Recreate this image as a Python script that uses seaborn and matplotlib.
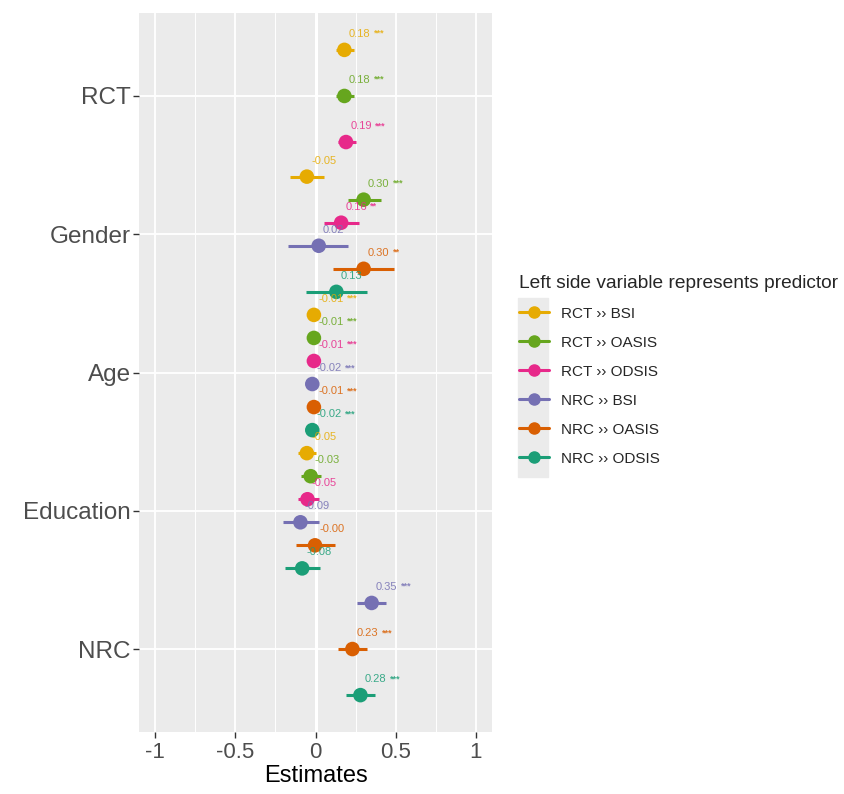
import numpy as np
import pandas as pd
import matplotlib.pyplot as plt
import seaborn as sns
from matplotlib.lines import Line2D
from matplotlib.patches import Rectangle

# terms (top to bottom) and the six models
terms = ["RCT", "Gender", "Age", "Education", "NRC"]
models = ["RCT \u203a\u203a BSI", "RCT \u203a\u203a OASIS", "RCT \u203a\u203a ODSIS",
          "NRC \u203a\u203a BSI", "NRC \u203a\u203a OASIS", "NRC \u203a\u203a ODSIS"]
colors = ["#E6AB02", "#66A61E", "#E7298A", "#7570B3", "#D95F02", "#1B9E77"]

# estimates per model, in order of terms (None = term not in model)
est_rct_bsi = [0.18, -0.054, -0.01, -0.054, None]
est_rct_oasis = [0.18, 0.30, -0.01, -0.03, None]
est_rct_odsis = [0.19, 0.16, -0.01, -0.05, None]
est_nrc_bsi = [None, 0.02, -0.02, -0.094, 0.35]
est_nrc_oasis = [None, 0.30, -0.01, -0.003, 0.23]
est_nrc_odsis = [None, 0.13, -0.02, -0.083, 0.28]

low_rct_bsi = [0.13, -0.16, -0.015, -0.11, None]
low_rct_oasis = [0.13, 0.20, -0.015, -0.09, None]
low_rct_odsis = [0.14, 0.05, -0.015, -0.11, None]
low_nrc_bsi = [None, -0.17, -0.025, -0.20, 0.26]
low_nrc_oasis = [None, 0.11, -0.015, -0.12, 0.14]
low_nrc_odsis = [None, -0.06, -0.025, -0.19, 0.19]

high_rct_bsi = [0.24, 0.05, -0.005, 0.00, None]
high_rct_oasis = [0.24, 0.41, -0.005, 0.035, None]
high_rct_odsis = [0.25, 0.27, -0.005, 0.02, None]
high_nrc_bsi = [None, 0.20, -0.015, 0.02, 0.44]
high_nrc_oasis = [None, 0.49, -0.005, 0.12, 0.32]
high_nrc_odsis = [None, 0.32, -0.015, 0.03, 0.37]

stars_rct_bsi = ["***", "", "***", "", None]
stars_rct_oasis = ["***", "***", "***", "", None]
stars_rct_odsis = ["***", "**", "***", "", None]
stars_nrc_bsi = [None, "", "***", "", "***"]
stars_nrc_oasis = [None, "**", "***", "", "***"]
stars_nrc_odsis = [None, "", "***", "", "***"]

est_all = [est_rct_bsi, est_rct_oasis, est_rct_odsis, est_nrc_bsi, est_nrc_oasis, est_nrc_odsis]
low_all = [low_rct_bsi, low_rct_oasis, low_rct_odsis, low_nrc_bsi, low_nrc_oasis, low_nrc_odsis]
high_all = [high_rct_bsi, high_rct_oasis, high_rct_odsis, high_nrc_bsi, high_nrc_oasis, high_nrc_odsis]
stars_all = [stars_rct_bsi, stars_rct_oasis, stars_rct_odsis, stars_nrc_bsi, stars_nrc_oasis, stars_nrc_odsis]

rows = []
for m, name in enumerate(models):
    for t, term in enumerate(terms):
        if est_all[m][t] is None:
            continue
        rows.append(dict(model=name, term=term, t=t, m=m, estimate=est_all[m][t],
                         low=low_all[m][t], high=high_all[m][t], stars=stars_all[m][t]))
df = pd.DataFrame(rows)

# dodge inside each term over the models that contain it
df["rank"] = df.groupby("term").cumcount()
df["n"] = df.groupby("term")["model"].transform("count")
df["y"] = df["t"] + (df["rank"] - (df["n"] - 1) / 2) / df["n"]

sns.set_theme(style="darkgrid", rc={"axes.facecolor": "#EBEBEB", "grid.color": "white"})
plt.rcParams['font.family'] = ['Liberation Sans', 'DejaVu Sans']

fig = plt.figure(figsize=(8.44, 7.94), dpi=100)
ax = fig.add_axes([139 / 844, 1 - 732 / 794, (492 - 139) / 844, (732 - 13) / 794])

ax.axvline(0, color="white", lw=2.2, zorder=1)
pal = dict(zip(models, colors))
for _, r in df.iterrows():
    ax.plot([r.low, r.high], [r.y, r.y], color=pal[r.model], lw=2.2, solid_capstyle="butt", zorder=2)
sns.scatterplot(data=df, x="estimate", y="y", hue="model", palette=pal, s=110,
                edgecolor="none", legend=False, ax=ax, zorder=3)

for _, r in df.iterrows():
    txt = ax.annotate(f"{r.estimate:.2f}", (r.estimate, r.y), xytext=(3, 11.5),
                      textcoords="offset points", ha="left", va="center",
                      fontsize=8, color=pal[r.model], alpha=0.85)
    if r.stars:
        ax.annotate(r.stars, xy=(1, 0.55), xycoords=txt, xytext=(2.5, 0),
                    textcoords="offset points", ha="left", va="center",
                    fontsize=6.5, fontweight="bold", color=pal[r.model], alpha=0.85)

ax.set_xlim(-1.1, 1.1)
ax.set_ylim(4.6, -0.6)
ax.set_xticks([-1, -0.5, 0, 0.5, 1])
ax.set_xticklabels(["-1", "-0.5", "0", "0.5", "1"])
ax.set_xticks([-0.75, -0.25, 0.25, 0.75], minor=True)
ax.set_yticks(range(len(terms)))
ax.set_yticklabels(terms)
ax.grid(True, which="major", lw=1.3)
ax.grid(True, which="minor", axis="x", lw=0.7, color="white")
ax.tick_params(which="major", length=4, width=1, color="#333333", labelcolor="#4D4D4D",
               bottom=True, left=True, pad=2)
ax.tick_params(axis="x", labelsize=16, pad=3)
ax.tick_params(axis="y", labelsize=17.5)
ax.tick_params(which="minor", length=0)
ax.set_xlabel("Estimates", fontsize=17, color="black", labelpad=2)
ax.set_ylabel("")
for s in ax.spines.values():
    s.set_visible(False)

# legend with grey key column
fig.patches.append(Rectangle((518 / 844, 1 - 477 / 794), 30 / 844, 179 / 794,
                             transform=fig.transFigure, color="#EBEBEB", zorder=0))
handles = [Line2D([], [], color=c, lw=2.2, marker="o", markersize=8) for c in colors]
fig.legend(handles, models, title="Left side variable represents predictor",
           loc="upper left", bbox_to_anchor=(505 / 844, 1 - 261 / 794), frameon=False,
           fontsize=11, title_fontsize=13.8, handlelength=2.0, labelspacing=0.98,
           handletextpad=0.75, alignment="left")

fig.savefig("out.png", dpi=100)
